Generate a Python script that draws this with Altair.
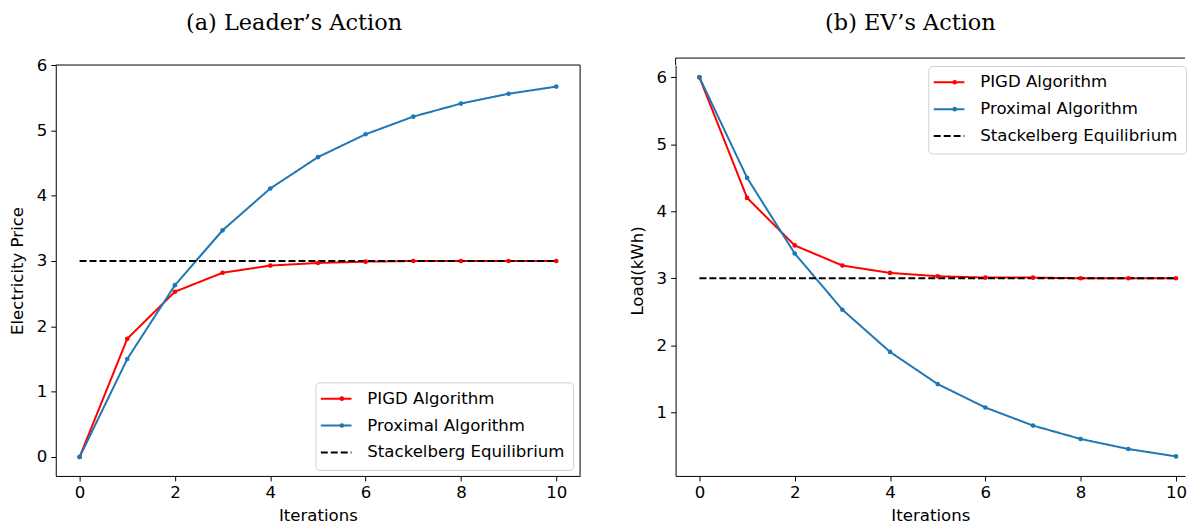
import altair as alt
import pandas as pd

iterations = [0, 1, 2, 3, 4, 5, 6, 7, 8, 9, 10]
series_names = ["PIGD Algorithm", "Proximal Algorithm", "Stackelberg Equilibrium"]
series_colors = ["#ff0000", "#1f77b4", "#000000"]
series_dashes = [[1, 0], [1, 0], [7, 3]]

# (a) Leader's action: electricity price
price_pigd = [0.0, 1.81, 2.53, 2.82, 2.93, 2.97, 2.99, 3.0, 3.0, 3.0, 3.0]
price_prox = [0.0, 1.50, 2.63, 3.47, 4.11, 4.59, 4.94, 5.21, 5.41, 5.56, 5.67]
price_se = [3.0, 3.0, 3.0, 3.0, 3.0, 3.0, 3.0, 3.0, 3.0, 3.0, 3.0]

# (b) EV's action: load
load_pigd = [6.0, 4.20, 3.49, 3.19, 3.08, 3.03, 3.01, 3.01, 3.0, 3.0, 3.0]
load_prox = [6.0, 4.50, 3.37, 2.53, 1.90, 1.42, 1.07, 0.80, 0.60, 0.45, 0.34]
load_se = [3.0, 3.0, 3.0, 3.0, 3.0, 3.0, 3.0, 3.0, 3.0, 3.0, 3.0]

x_ticks = [0, 2, 4, 6, 8, 10]
price_ticks = [0, 1, 2, 3, 4, 5, 6]
load_ticks = [1, 2, 3, 4, 5, 6]

FONT = "DejaVu Sans"
FS = 16.67
W_LEFT, W_RIGHT, H = 527, 512, 413


def long_df(pigd, prox, se):
    rows = []
    for name, vals in zip(series_names, [pigd, prox, se]):
        for it, v in zip(iterations, vals):
            rows.append({"Iteration": it, "Value": v, "Series": name, "Marker": name})
    return pd.DataFrame(rows)


def panel(df, title, title_dx, title_offset, y_title, y_domain, y_ticks,
          x_max, width, lx, ly, frame_top, right_border):
    base = alt.Chart(df)
    x = alt.X("Iteration:Q",
              scale=alt.Scale(domain=[-0.5, x_max], nice=False, zero=False),
              axis=alt.Axis(values=x_ticks, title="Iterations", format="d"))
    y = alt.Y("Value:Q",
              scale=alt.Scale(domain=y_domain, nice=False, zero=False),
              axis=alt.Axis(values=y_ticks, title=y_title, format="d"))

    line_legend = alt.Legend(
        title=None, orient="none", legendX=lx, legendY=ly,
        symbolType="M-2.2,0L2.2,0", symbolSize=196, symbolStrokeWidth=2,
        symbolOffset=4.5, labelOffset=23, rowPadding=9, padding=8,
        strokeColor="#d0d0d0", fillColor="white", cornerRadius=4,
        labelFontSize=FS, labelFont=FONT, labelColor="black", labelLimit=400,
    )
    dot_legend = alt.Legend(
        title=None, orient="none", legendX=lx, legendY=ly,
        symbolType="circle", symbolSize=22, symbolStrokeWidth=0,
        symbolOffset=10.2, labelOffset=23, rowPadding=9, padding=8,
        strokeColor="transparent", fillColor="transparent",
        labelFontSize=FS, labelFont=FONT, labelColor="transparent",
        labelExpr="''", labelLimit=400,
    )

    lines = base.mark_line(strokeWidth=2).encode(
        x=x, y=y,
        color=alt.Color("Series:N", scale=alt.Scale(domain=series_names, range=series_colors),
                        legend=line_legend),
        strokeDash=alt.StrokeDash("Series:N",
                                  scale=alt.Scale(domain=series_names, range=series_dashes),
                                  legend=line_legend),
    )
    points = base.transform_filter(
        alt.datum.Series != "Stackelberg Equilibrium"
    ).mark_circle(size=22, opacity=1).encode(
        x=x, y=y,
        fill=alt.Fill("Marker:N",
                      scale=alt.Scale(domain=series_names[:2], range=series_colors[:2]),
                      legend=dot_legend),
    )
    frame_df = pd.DataFrame({"edge": ["frame"]})
    layers = [lines, points,
              alt.Chart(frame_df).mark_rule(color="black", strokeWidth=1).encode(
                  x=alt.value(0), x2=alt.value(width), y=alt.value(frame_top))]
    if frame_top < 0:
        layers.append(alt.Chart(frame_df).mark_rule(color="black", strokeWidth=1).encode(
            x=alt.value(0), y=alt.value(frame_top), y2=alt.value(0)))
    if right_border:
        layers.append(alt.Chart(frame_df).mark_rule(color="black", strokeWidth=1).encode(
            x=alt.value(width), y=alt.value(0), y2=alt.value(H)))

    return alt.layer(*layers).properties(
        width=width, height=H,
        title=alt.TitleParams(text=title, font="DejaVu Serif", fontSize=22.5,
                              fontWeight="normal", color="black", anchor="middle",
                              frame="group", dx=title_dx, offset=title_offset),
    )


left = panel(long_df(price_pigd, price_prox, price_se), "(a)  Leader’s Action", -24, 23,
             "Electricity Price", [-0.29, 6.0], price_ticks, 10.5, W_LEFT, 261, 319, 0, True)
right = panel(long_df(load_pigd, load_prox, load_se), "(b)  EV’s Action", -20, 23,
              "Load(kWh)", [0.048, 6.184], load_ticks, 10.19, W_RIGHT, 254, 1, -7, False)

chart = alt.hconcat(left, right, spacing=48).resolve_scale(
    color="independent", strokeDash="independent", fill="independent"
).resolve_legend(
    color="independent", strokeDash="independent", fill="independent"
).properties(
    padding={"left": 1, "top": 2, "right": 0, "bottom": 0}
).configure_view(strokeWidth=0).configure_axis(
    grid=False, domainColor="black", domainWidth=1, tickColor="black", tickSize=5,
    tickWidth=1, labelFont=FONT, labelFontSize=FS, labelColor="black", labelPadding=4,
    titleFont=FONT, titleFontSize=FS, titleFontWeight="normal", titleColor="black",
).configure_axisY(titlePadding=10).configure_axisX(titlePadding=6)

chart.save("out.html", embed_options={"renderer": "svg", "actions": False})
